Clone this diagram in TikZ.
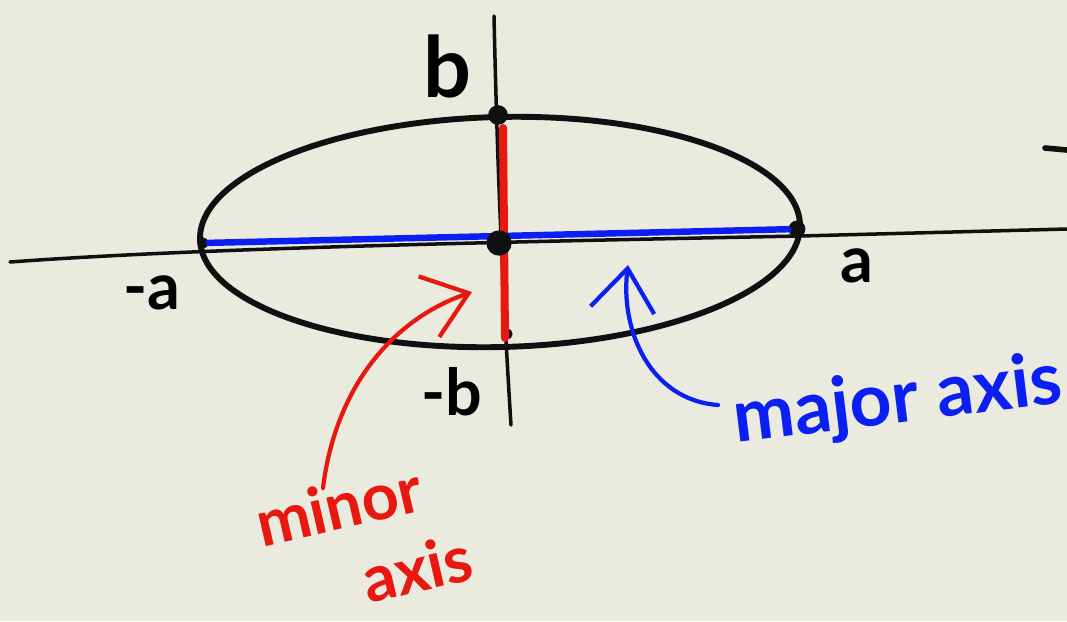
\documentclass[tikz,border=0pt]{standalone}
\usepackage{fontspec}
\setmainfont{Lato}
\usetikzlibrary{arrows.meta, positioning, calc}
\definecolor{cpaper}{HTML}{EAEADF}
\definecolor{cink}{HTML}{101010}
\definecolor{cred}{HTML}{E8170F}
\definecolor{cblue}{HTML}{0B1FF2}
\tikzset{
  every picture/.style={line cap=round, line join=round},
  ink/.style={draw=cink, line width=#1},
  ink/.default=4.2pt,
  dot/.style={circle, fill=cink, inner sep=0pt, minimum size=#1},
  dot/.default=10pt,
  hand/.style={font=\fontsize{#1}{#1}\selectfont\bfseries, inner sep=0pt},
  hand/.default=46,
  pointer/.style={draw=#1, line width=3pt, -{Straight Barb[length=1.05cm, width=1.6cm, line width=3pt]}},
}
\begin{document}
\begin{tikzpicture}[x=0.025cm, y=-0.025cm]
  \useasboundingbox (0,0) rectangle (1067,621);
  \fill[cpaper] (0,0) rectangle (1067,621);
  % axes
  \draw[ink=2.5pt] (10,262) .. controls (200,248) and (500,242) .. (800,236) -- (1067,229);
  \draw[ink=2.5pt] (494,16) .. controls (498,200) and (505,330) .. (511,425);
  \draw[ink=4pt] (1045,148) -- (1067,150);
  % ellipse
  \draw[ink, rotate around={1.4:(500,232)}] (500,232) ellipse [x radius=7.5cm, y radius=2.875cm];
  % the two axes of the ellipse
  \node[dot=14pt] (top) at (498,115) {};
  \node[dot=8pt] (bot) at (507,334) {};
  \node[dot=8pt] (left) at (203,243) {};
  \node[dot=12pt] (right) at (797,229) {};
  \draw[cred, line width=5.7pt] (503,128) -- (505,338);
  \draw[cblue, line width=4.6pt] (left) -- (right);
  \node[dot=18pt] (O) at (499,243) {};
  % end labels
  \node[hand=60] (lblb) at (447,66) {b};
  \node[hand] (lblnegb) at (452,392) {-b};
  \node[hand] (lbla) at (857,266) {a};
  \node[hand] (lblnega) at (152,293) {-a};
  % names
  \node[hand, text=cred, rotate=13, align=left] (minorlbl) at (364,540) {minor\\[10pt]\hspace{1.4em}axis};
  \node[hand=52, text=cblue, rotate=7] (majorlbl) at (898,402) {major axis};
  \coordinate (minortail) at (323,488);
  \coordinate (minortip) at (472,292);
  \coordinate (majortail) at (718,405);
  \coordinate (majortip) at (628,265);
  \draw[pointer=cred] (minortail) .. controls (335,390) and (390,320) .. (minortip);
  \draw[pointer=cblue] (majortail) .. controls (650,400) and (620,330) .. (majortip);
\end{tikzpicture}
\end{document}
